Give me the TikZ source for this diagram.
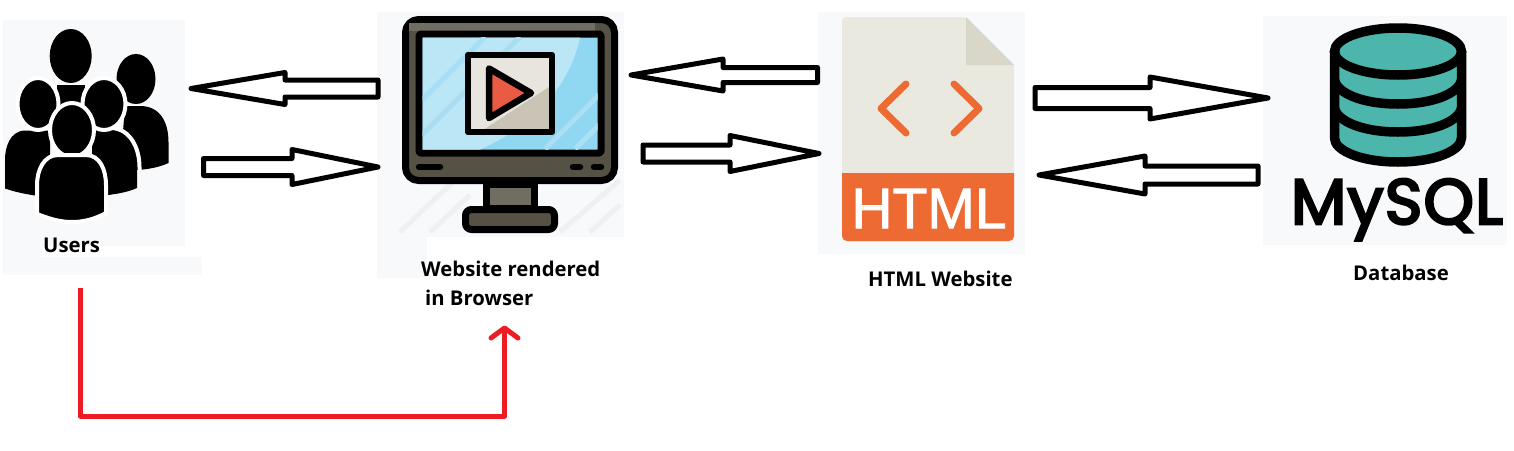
\documentclass[tikz,border=0pt]{standalone}
\usepackage{fontspec}
\setmainfont{Open Sans}
\newfontfamily\htmlfont[FakeBold=1.5]{Liberation Sans}
\newfontfamily\dbfont[FakeBold=4,LetterSpace=2]{Poppins}
\definecolor{patch}{HTML}{F8F9FB}
\definecolor{monDark}{HTML}{565145}
\definecolor{monLight}{HTML}{716D62}
\definecolor{scrBlue}{HTML}{90D7F1}
\definecolor{scrLight}{HTML}{BAE6F6}
\definecolor{scrStripe}{HTML}{A9DFF4}
\definecolor{boxLight}{HTML}{E8E5DF}
\definecolor{boxDark}{HTML}{CAC4B7}
\definecolor{playRed}{HTML}{EA5B44}
\definecolor{docBg}{HTML}{E9E9E0}
\definecolor{docFold}{HTML}{D9D7CA}
\definecolor{docOrange}{HTML}{EE6A33}
\definecolor{dbTeal}{HTML}{4DB6AC}
\definecolor{lineRed}{HTML}{ED1C24}
\definecolor{stripe}{HTML}{EFF0F2}
\tikzset{
  patchbox/.style={fill=patch,draw=none},
  blockarrow/.style={draw=black,fill=white,line width=5pt,line join=round},
  caption/.style={font=\fontsize{20.3}{24}\selectfont\bfseries,text=black,inner sep=0pt,align=left},
  person/.style={fill=black,draw=none},
  personcut/.style={fill=black,draw=white,line width=4pt},
  mon/.style={draw=black,line width=7pt,line join=round},
  dbline/.style={draw=black,line width=9.5pt},
  redline/.style={draw=lineRed,line width=5pt,line join=round},
}
% \bararrow{name}{tail x}{head-back x}{tip x}{centre y}{bar half}{head half}
\newcommand{\bararrow}[7]{%
  \coordinate (#1tail) at (#2,#5);
  \coordinate (#1tip) at (#4,#5);
  \draw[blockarrow] (#1tip) -- (#3,#5-#7) -- (#3,#5-#6) -- (#2,#5-#6) -- (#2,#5+#6) -- (#3,#5+#6) -- (#3,#5+#7) -- cycle;}
\begin{document}
\begin{tikzpicture}[x=1pt,y=-1pt]
\useasboundingbox (0,0) rectangle (1514,450);
% pale backgrounds
\fill[patch] (3,20) rectangle (185,246);
\fill[patch] (3,257) rectangle (202,275);
\fill[patch] (3,246) rectangle (42,257);
\fill[patch] (388,12) rectangle (624,237);
\fill[patch] (377,12) rectangle (388,278);
\fill[patch] (388,237) rectangle (427,278);
\fill[patch] (818,12) rectangle (1025,254);
\fill[patch] (1263,16) rectangle (1507,245);
% users icon
\fill[person] (136,79) ellipse [x radius=19.5,y radius=25];
\fill[person] (125,106) -- (140,106) .. controls (160,106) and (168.5,122) .. (168.5,142) -- (168.5,163) .. controls (160,167) and (150,169) .. (138,170) -- (120,170) -- cycle;
\fill[person] (70.7,56) ellipse [x radius=21,y radius=27];
\fill[person] (57,85) -- (85,85) -- (85,120) -- (57,120) -- cycle;
\fill[person] (25,130.5) .. controls (10,131) and (5,147) .. (5,160) -- (5,188.5) .. controls (15,192) and (25,194) .. (38,196) -- (50,196) -- (50,130.5) -- cycle;
\draw[personcut] (38,104) ellipse [x radius=20.5,y radius=26];
\fill[patch] (137,172) rectangle (142,189);
\fill[person] (92,130) -- (112,130) .. controls (128,130) and (137,148) .. (137,167) -- (137,188) .. controls (128,192) and (118,194) .. (100,196) -- (92,196) -- cycle;
\draw[white,line width=4pt] (112,128) .. controls (130,129) and (139.5,148) .. (139.5,167) -- (139.5,171);
\draw[personcut] (104,104) ellipse [x radius=21.5,y radius=26];
\draw[personcut] (72,130) ellipse [x radius=22,y radius=27];
\draw[personcut] (58,155) .. controls (44,155) and (37,170) .. (37,185) -- (37,214) .. controls (50,219) and (60,222) .. (72,222) .. controls (84,222) and (95,219) .. (106,213) -- (106,185) .. controls (106,170) and (100,155) .. (86,155) -- cycle;
% monitor icon
\draw[stripe,line width=5pt] (400,232) -- (455,180) (430,232) -- (470,195) (560,232) -- (620,180) (590,232) -- (620,205);
\filldraw[mon,fill=monDark,rounded corners=13pt] (405.5,19.5) rectangle (614.5,180.5);
\fill[monLight] (409,23) rectangle (595,31);
\filldraw[mon,fill=scrBlue,rounded corners=2pt] (419,34) rectangle (601,153);
\fill[scrLight] (422.5,37.5) -- (580,37.5) .. controls (570,85) and (535,125) .. (480,149.5) -- (422.5,149.5) -- cycle;
\begin{scope}
\clip (422.5,37.5) rectangle (597.5,149.5);
\draw[scrStripe,line width=5pt] (422,100) -- (485,37) (422,135) -- (520,37) (545,149) -- (600,94) (575,149) -- (600,124);
\end{scope}
\draw[black,line width=2pt] (419,34) rectangle (601,153);
\fill[boxLight] (468,55) rectangle (552,132);
\fill[boxDark] (552,85) -- (552,132) -- (480,132) -- cycle;
\draw[mon,line width=6.5pt] (468,55) rectangle (552,132);
\filldraw[fill=playRed,draw=black,line width=6.5pt,line join=round] (489,68.5) -- (531,93) -- (489,118) -- cycle;
\filldraw[mon,fill=monLight] (486,184) rectangle (534,208);
\filldraw[mon,fill=monDark,rounded corners=6pt] (465.5,209.5) rectangle (554.5,229.5);
\draw[black,line width=6.5pt,line cap=round] (419,167) -- (440,167) (573,167) -- (580,167) (594,167) -- (601,167);
% html icon
\fill[docBg,rounded corners=4pt] (842,241) -- (842,17) -- (966,17) [sharp corners] -- (1014,65) [rounded corners=4pt] -- (1014,241) -- cycle;
\fill[docFold] (966,17) -- (1014,65) -- (966,65) -- cycle;
\fill[docOrange,rounded corners=5pt] (842,173) [sharp corners] -- (1014,173) [rounded corners=5pt] -- (1014,241) -- (842,241) [sharp corners] -- cycle;
\draw[docOrange,line width=7pt,line cap=round,line join=round] (906,84) -- (881,108.5) -- (906,133);
\draw[docOrange,line width=7pt,line cap=round,line join=round] (954,84) -- (979,108.5) -- (954,133);
\node[font=\htmlfont\fontsize{57}{60}\selectfont,text=white,inner sep=0pt,anchor=center] (htmlword) at (929,208.5) {HTML};
% database icon
\filldraw[fill=dbTeal,draw=black,line width=9.5pt,line join=round] (1334.5,51.5) -- (1334.5,138) .. controls (1334.5,151) and (1362,162) .. (1398,162) .. controls (1434,162) and (1461.5,151) .. (1461.5,138) -- (1461.5,51.5) -- cycle;
\filldraw[fill=dbTeal,draw=black,line width=9.5pt] (1398,51.5) ellipse [x radius=63.5,y radius=23.5];
\draw[dbline] (1334.5,80) .. controls (1337,93) and (1362,104) .. (1398,104) .. controls (1434,104) and (1459,93) .. (1461.5,80);
\draw[dbline] (1334.5,108) .. controls (1337,121) and (1362,132) .. (1398,132) .. controls (1434,132) and (1459,121) .. (1461.5,108);
\node[font=\dbfont\fontsize{64}{66}\selectfont,text=black,inner sep=0pt,anchor=base] (mysqlword) at (1397,224) {MySQL};
% block arrows
\bararrow{usersIn}{378}{285}{191}{88.5}{8.5}{16}
\bararrow{usersOut}{203.5}{292}{378}{167}{8.5}{17.5}
\bararrow{browserIn}{817.5}{723}{631}{75}{7.5}{16}
\bararrow{browserOut}{643}{730}{819}{153.5}{8.5}{18}
\bararrow{htmlOut}{1035}{1150}{1268}{98}{10.5}{21}
\bararrow{htmlIn}{1258}{1145}{1039}{175}{9}{19}
% captions
\node[caption,anchor=west] (usersLabel) at (43,245) {Users};
\node[caption,anchor=west] (browserLabel) at (421,268.5) {Website rendered};
\node[caption,anchor=west] (browserLabelB) at (425,297.5) {in Browser};
\node[caption,anchor=west] (htmlLabel) at (868,279) {HTML Website};
\node[caption,anchor=west] (dbLabel) at (1353,273) {Database};
% red connector
\coordinate (redStart) at (80.5,288);
\coordinate (redEnd) at (504.5,328);
\coordinate (redCornerA) at (80.5,416);
\coordinate (redCornerB) at (504.5,416);
\coordinate (redBarbL) at (491,338);
\coordinate (redBarbR) at (518,338);
\draw[redline] (redStart) -- (redCornerA) -- (redCornerB) -- (redEnd);
\draw[redline,line cap=round] (redBarbL) -- (redEnd) -- (redBarbR);
\end{tikzpicture}
\end{document}
